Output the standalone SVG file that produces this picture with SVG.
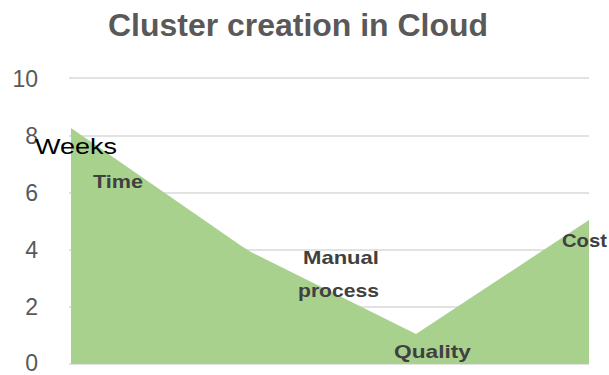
<svg xmlns="http://www.w3.org/2000/svg" width="609" height="375" viewBox="0 0 609 375">
<style>
.grid{stroke:#d9d9d9;stroke-width:1.5;fill:none}
.ax{font-family:"Liberation Sans",Arial,sans-serif;font-size:23px;fill:#595959;text-anchor:end}
.lbl{font-family:"Liberation Sans",Arial,sans-serif;font-size:19px;font-weight:bold;fill:#404040}
.title{font-family:"Liberation Sans",Arial,sans-serif;font-size:31px;font-weight:bold;fill:#595959}
</style>
<rect width="609" height="375" fill="#ffffff"/>
<text class="title" x="108" y="36" textLength="380" lengthAdjust="spacingAndGlyphs">Cluster creation in Cloud</text>
<g id="gridlines">
<line class="grid" x1="69" y1="78" x2="589" y2="78"/>
<line class="grid" x1="69" y1="136" x2="589" y2="136"/>
<line class="grid" x1="69" y1="193" x2="589" y2="193"/>
<line class="grid" x1="69" y1="250" x2="589" y2="250"/>
<line class="grid" x1="69" y1="307" x2="589" y2="307"/>
<line class="grid" x1="69" y1="364" x2="589" y2="364"/>
</g>
<g id="axis">
<text class="ax" x="38" y="87">10</text>
<text class="ax" x="38" y="144">8</text>
<text class="ax" x="38" y="201">6</text>
<text class="ax" x="38" y="258">4</text>
<text class="ax" x="38" y="315">2</text>
<text class="ax" x="38" y="371">0</text>
</g>
<g id="area">
<polygon points="71,128 240,245 251,252 416,334 589,220 589,364 71,364" fill="#a9d18e"/>
</g>
<g id="labels">
<text x="35" y="154" font-family="Liberation Sans,Arial,sans-serif" font-size="22" fill="#000000" textLength="82" lengthAdjust="spacingAndGlyphs">Weeks</text>
<text class="lbl" x="93" y="188" textLength="50" lengthAdjust="spacingAndGlyphs">Time</text>
<text class="lbl" x="303" y="264" textLength="76" lengthAdjust="spacingAndGlyphs">Manual</text>
<text class="lbl" x="298" y="297" textLength="81" lengthAdjust="spacingAndGlyphs">process</text>
<text class="lbl" x="394" y="358" textLength="77" lengthAdjust="spacingAndGlyphs">Quality</text>
<text class="lbl" x="562" y="247" textLength="45" lengthAdjust="spacingAndGlyphs">Cost</text>
</g>
</svg>
